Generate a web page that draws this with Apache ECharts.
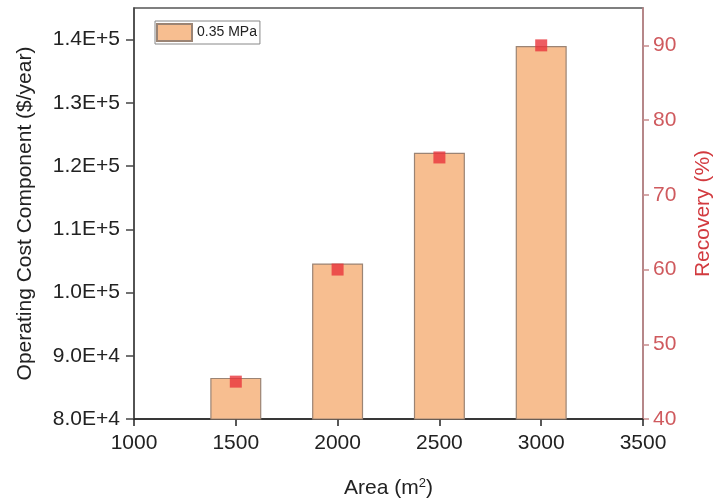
<!DOCTYPE html>
<html>
<head>
<meta charset="utf-8">
<script src="https://cdn.jsdelivr.net/npm/echarts@6/dist/echarts.min.js"></script>
<style>
  html, body { margin: 0; padding: 0; background: #fff; }
  #chart { width: 715px; height: 503px; }
</style>
</head>
<body>
<div id="chart"></div>
<script>
// Membrane area (m²) for each case
const areas = [1500, 2000, 2500, 3000];
// Operating cost component ($/year) at 0.35 MPa
const operatingCost = [86500, 104600, 122100, 139000];
// Recovery (%) at each area
const recovery = [45, 60, 75, 90];

const xTicks = [1000, 1500, 2000, 2500, 3000, 3500];
const costTicks = [80000, 90000, 100000, 110000, 120000, 130000, 140000];
const recoveryTicks = [40, 50, 60, 70, 80, 90];

const FONT = '"Liberation Sans", Arial, sans-serif';
const RED = '#d23a3f';
const RED_LABEL = '#cf5a5e';

function sci(v) {
  const e = Math.floor(Math.log10(v));
  const m = v / Math.pow(10, e);
  return m.toFixed(1) + 'E+' + e;
}

const chart = echarts.init(document.getElementById('chart'), null, { renderer: 'canvas' });

chart.setOption({
  animation: false,
  backgroundColor: '#fff',
  textStyle: { fontFamily: FONT },
  grid: {
    left: 134, right: 72, top: 8, bottom: 84,
    outerBoundsMode: 'none',
    containLabel: false,
    show: true, borderColor: '#555', borderWidth: 1.5, backgroundColor: 'transparent'
  },
  legend: {
    left: 155, top: 21,
    icon: 'rect',
    itemWidth: 35, itemHeight: 17,
    itemGap: 4,
    padding: [2, 3, 2, 1],
    borderColor: '#888', borderWidth: 1,
    textStyle: { fontSize: 14, color: '#222', fontFamily: FONT },
    data: ['0.35 MPa']
  },
  xAxis: {
    type: 'value',
    min: 1000, max: 3500, interval: 500,
    name: 'Area (m{sup|2})',
    nameLocation: 'middle', nameGap: 58,
    nameTextStyle: {
      fontSize: 21, color: '#222', fontFamily: FONT,
      rich: { sup: { fontSize: 13, verticalAlign: 'top', padding: [0, 0, 10, 0], color: '#222' } }
    },
    axisLine: { lineStyle: { color: '#222', width: 1.5 } },
    axisTick: { show: true, length: 7, lineStyle: { color: '#222', width: 1.5 }, customValues: xTicks },
    axisLabel: { fontSize: 21, color: '#222', margin: 14, formatter: v => String(v), customValues: xTicks },
    splitLine: { show: false }
  },
  yAxis: [
    {
      type: 'value',
      min: 80000, max: 145000,
      name: 'Operating Cost Component ($/year)',
      nameLocation: 'middle', nameGap: 98,
      nameTextStyle: { fontSize: 21, color: '#222', fontFamily: FONT },
      axisLine: { show: true, lineStyle: { color: '#444', width: 1.5 } },
      axisTick: { show: true, length: 8, lineStyle: { color: '#444', width: 1.5 }, customValues: costTicks },
      axisLabel: { fontSize: 21, color: '#222', margin: 14, formatter: sci, customValues: costTicks },
      splitLine: { show: false }
    },
    {
      type: 'value',
      min: 40, max: 95,
      position: 'right',
      name: 'Recovery (%)',
      nameLocation: 'middle', nameGap: 50, nameRotate: 90,
      nameTextStyle: { fontSize: 21, color: RED, fontFamily: FONT },
      axisLine: { show: true, lineStyle: { color: '#c88a8c', width: 1.5 } },
      axisTick: { show: true, length: 6, lineStyle: { color: '#c88a8c', width: 1.5 }, customValues: recoveryTicks },
      axisLabel: { fontSize: 21, color: RED_LABEL, margin: 10, customValues: recoveryTicks },
      splitLine: { show: false }
    }
  ],
  series: [
    {
      name: '0.35 MPa',
      type: 'bar',
      yAxisIndex: 0,
      barWidth: 51,
      data: areas.map((a, i) => [a, operatingCost[i]]),
      itemStyle: { color: '#f7be90', borderColor: '#9b8474', borderWidth: 1.2 }
    },
    {
      name: 'Recovery',
      type: 'scatter',
      yAxisIndex: 1,
      symbol: 'rect',
      symbolSize: 12,
      data: areas.map((a, i) => [a, recovery[i]]),
      itemStyle: { color: '#e8343b' },
      z: 5
    }
  ]
});
</script>
</body>
</html>
